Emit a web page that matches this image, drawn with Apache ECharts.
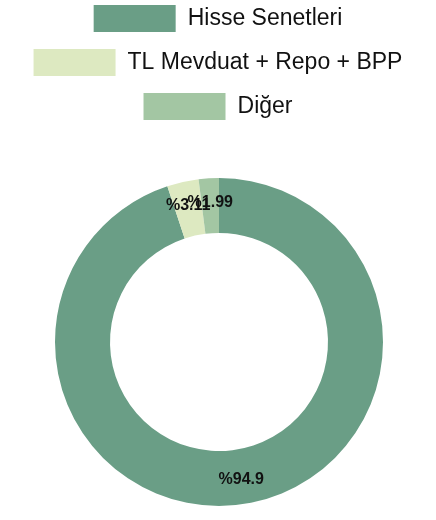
<!DOCTYPE html>
<html>
<head>
<meta charset="utf-8">
<script src="https://cdn.jsdelivr.net/npm/echarts@6/dist/echarts.min.js"></script>
<style>
  html, body { margin: 0; padding: 0; background: #fff; }
  #chart { width: 436px; height: 520px; }
</style>
</head>
<body>
<div id="chart"></div>
<script>
  // portfolio breakdown
  var names = ['Hisse Senetleri', 'TL Mevduat + Repo + BPP', 'Diğer'];
  var values = [94.9, 3.11, 1.99];
  var colors = ['#6a9e86', '#dde9c1', '#a3c6a3'];

  var legendTops = [0, 44, 88];

  var legends = names.map(function(n, i) {
    return {
      data: [n],
      left: 'center',
      top: legendTops[i],
      icon: 'rect',
      itemWidth: 82,
      itemHeight: 27,
      selectedMode: false,
      textStyle: {
        fontFamily: 'Liberation Sans, Arial, sans-serif',
        fontSize: 23,
        color: '#111',
        padding: [0, 0, 0, 7]
      }
    };
  });

  var chart = echarts.init(document.getElementById('chart'));

  chart.setOption({
    animation: false,
    color: colors,
    legend: legends,
    series: [{
      type: 'pie',
      center: [219, 342],
      radius: [109, 164],
      startAngle: 90,
      clockwise: true,
      avoidLabelOverlap: false,
      label: {
        show: true,
        position: 'inside',
        formatter: '%{c}',
        color: '#111',
        fontFamily: 'Liberation Sans, Arial, sans-serif',
        fontWeight: 'bold',
        fontSize: 16
      },
      labelLayout: { hideOverlap: false },
      labelLine: { show: false },
      data: names.map(function(n, i) {
        return { name: n, value: values[i] };
      })
    }]
  });
</script>
</body>
</html>
